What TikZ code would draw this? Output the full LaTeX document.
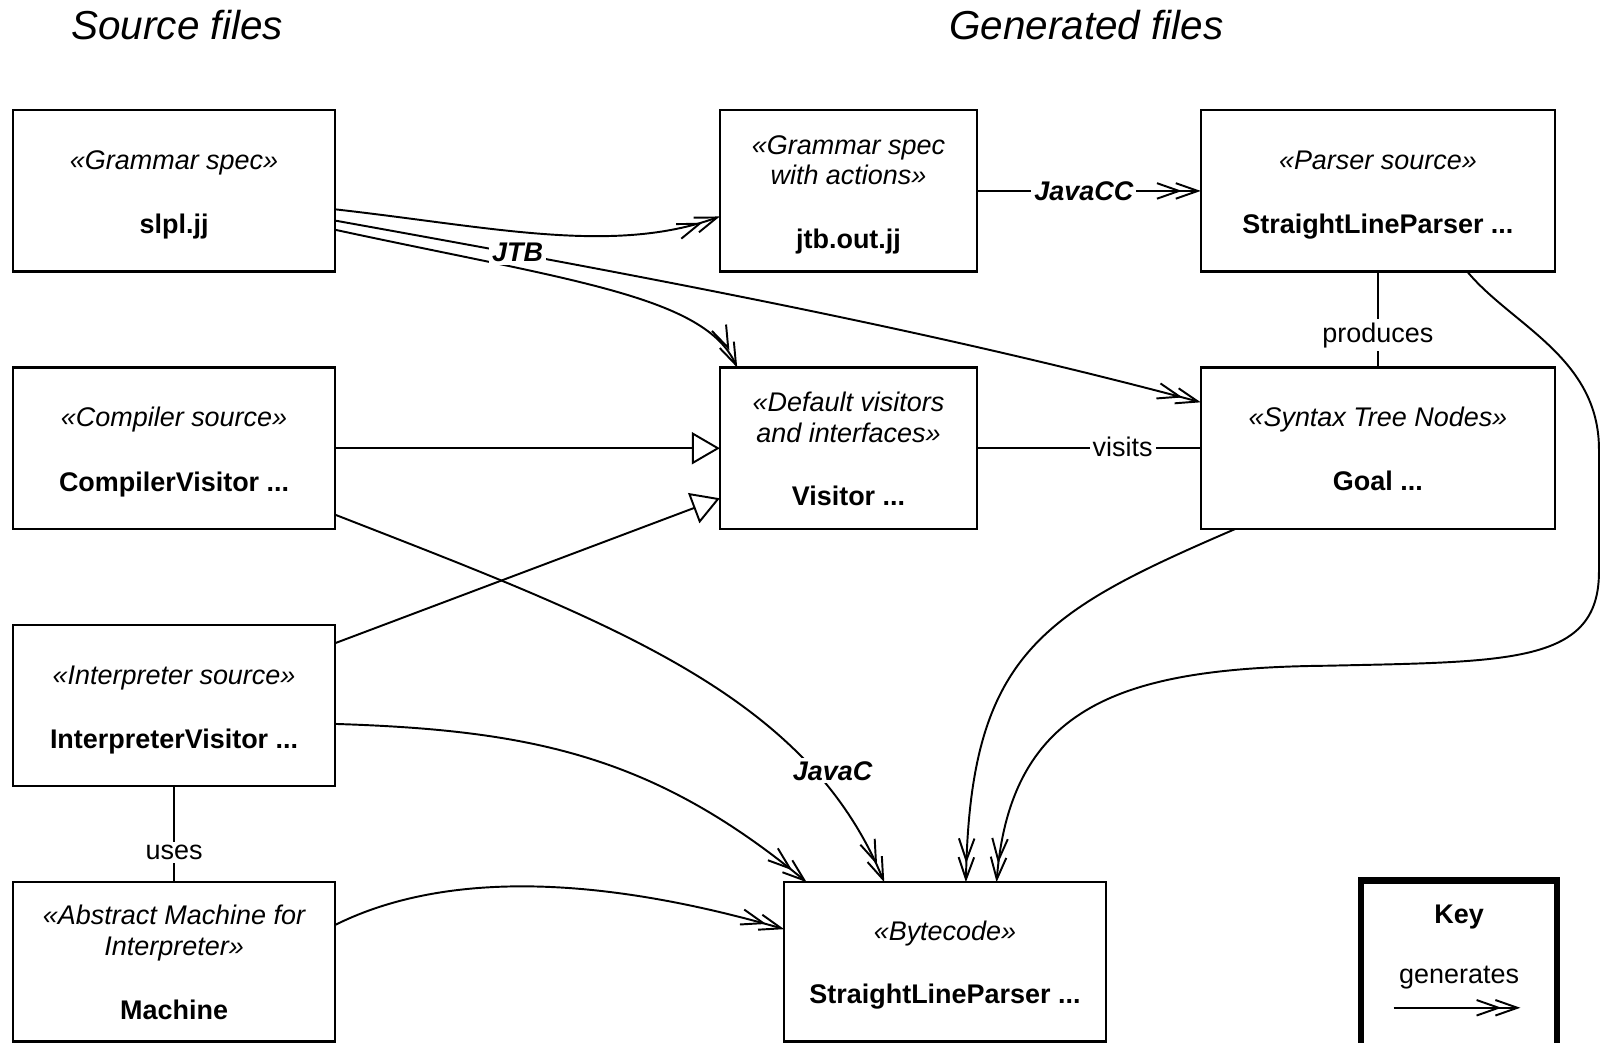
\documentclass[tikz,border=0pt]{standalone}
\usepackage{fontspec}
\setmainfont{Liberation Sans}
\usetikzlibrary{arrows.meta,calc}
\tikzset{
  box/.style={draw, line width=1.15pt, inner sep=0pt, outer sep=0pt, minimum height=79pt},
  keybox/.style={draw, line width=3.3pt, inner sep=0pt, outer sep=0pt},
  st/.style={font=\fontsize{13.2}{15}\itshape, anchor=base, inner sep=0pt},
  nm/.style={font=\fontsize{13.2}{15}\bfseries, anchor=base, inner sep=0pt},
  lbl/.style={font=\fontsize{13.2}{15}\selectfont, anchor=base, fill=white, inner sep=1.5pt},
  lblb/.style={lbl, font=\fontsize{13.2}{15}\bfseries\itshape},
  hd/.style={font=\fontsize{19.8}{22}\itshape, anchor=base, inner sep=0pt},
  conn/.style={line width=0.95pt},
  gen/.style={conn, -{Straight Barb[length=10.8pt,width=7.6pt,line width=0.95pt,sep=-3.5pt] Straight Barb[length=10.8pt,width=7.6pt,line width=0.95pt]}},
  real/.style={conn, -{Triangle[open,length=13.7pt,width=15.7pt,line width=0.95pt]}},
}
\begin{document}
\begin{tikzpicture}[x=0.5pt,y=-0.5pt]
\useasboundingbox (0,0) rectangle (1568,1021);
\fill[white] (0,0) rectangle (1568,1021);

% headings
\node[hd] (hsrc) at (173.5,39) {Source files};
\node[hd] (hgen) at (1064,39) {Generated files};

% boxes
\node[box, minimum width=157.5pt] (gs)  at (170.5,187) {};
\node[box, minimum width=126pt]   (gsa) at (831,187) {};
\node[box, minimum width=173.5pt] (ps)  at (1349.5,187) {};
\node[box, minimum width=157.5pt] (cs)  at (170.5,439) {};
\node[box, minimum width=126pt]   (dv)  at (831,439) {};
\node[box, minimum width=173.5pt] (stn) at (1349.5,439) {};
\node[box, minimum width=157.5pt] (is)  at (170.5,691) {};
\node[box, minimum width=157.5pt, minimum height=78pt] (am) at (170.5,942) {};
\node[box, minimum width=157.5pt, minimum height=78pt] (bc) at (925.5,942) {};
\node[keybox, minimum width=96pt, minimum height=90pt] (key) at (1429,952) {};

% box texts
\node[st] (gs1) at ($(gs.north)+(0,58)$) {«Grammar spec»};
\node[nm] (gs2) at ($(gs.north)+(0,121)$) {slpl.jj};

\node[st] (gsa1) at ($(gsa.north)+(0,43)$) {«Grammar spec};
\node[st] (gsa2) at ($(gsa.north)+(0,73)$) {with actions»};
\node[nm] (gsa3) at ($(gsa.north)+(0,135)$) {jtb.out.jj};

\node[st] (ps1) at ($(ps.north)+(0,58)$) {«Parser source»};
\node[nm] (ps2) at ($(ps.north)+(0,121)$) {StraightLineParser ...};

\node[st] (cs1) at ($(cs.north)+(0,58)$) {«Compiler source»};
\node[nm] (cs2) at ($(cs.north)+(0,121)$) {CompilerVisitor ...};

\node[st] (dv1) at ($(dv.north)+(0,43)$) {«Default visitors};
\node[st] (dv2) at ($(dv.north)+(0,73)$) {and interfaces»};
\node[nm] (dv3) at ($(dv.north)+(0,135)$) {Visitor ...};

\node[st] (stn1) at ($(stn.north)+(0,58)$) {«Syntax Tree Nodes»};
\node[nm] (stn2) at ($(stn.north)+(0,120)$) {Goal ...};

\node[st] (is1) at ($(is.north)+(0,58)$) {«Interpreter source»};
\node[nm] (is2) at ($(is.north)+(0,121)$) {InterpreterVisitor ...};

\node[st] (am1) at ($(am.north)+(0,41)$) {«Abstract Machine for};
\node[st] (am2) at ($(am.north)+(0,72)$) {Interpreter»};
\node[nm] (am3) at ($(am.north)+(0,134)$) {Machine};

\node[st] (bc1) at ($(bc.north)+(0,57)$) {«Bytecode»};
\node[nm] (bc2) at ($(bc.north)+(0,119)$) {StraightLineParser ...};

\node[nm] (key1) at ($(key.north)+(0,42)$) {Key};
\node[anchor=base, inner sep=0pt, font=\fontsize{13.2}{15}\selectfont] (key2) at ($(key.north)+(0,101)$) {generates};
\coordinate (ka) at ($(key.north west)+(32,125)$);
\coordinate (kb) at ($(key.north west)+(156,125)$);
\draw[gen] (ka) -- (kb);

% connectors
\draw[gen] ($(gs.north east)+(0,97)$) .. controls (480,222) and (600,250) .. ($(gsa.north west)+(0,104)$);
\draw[gen] ($(gs.north east)+(0,108)$) .. controls (600,265) and (900,320) .. ($(stn.north west)+(0,34)$);
\draw[gen] ($(gs.north east)+(0,117)$) .. controls (560,275) and (690,290) .. ($(dv.north west)+(17,0)$);
\draw[gen] (gsa.east) -- (ps.west);
\draw[conn] (ps.south) -- (stn.north);
\draw[conn] (dv.east) -- (stn.west);
\draw[real] (cs.east) -- (dv.west);
\draw[real] ($(is.north east)+(0,18)$) -- ($(dv.south west)+(0,-30)$);
\draw[gen] ($(cs.south east)+(0,-14)$) .. controls (600,610) and (790,680) .. ($(bc.north west)+(98,0)$);
\draw[gen] ($(is.north east)+(0,97)$) .. controls (520,715) and (640,740) .. ($(bc.north west)+(22,0)$);
\draw[gen] ($(am.north east)+(0,42)$) .. controls (420,860) and (560,850) .. ($(bc.north west)+(0,46)$);
\draw[gen] ($(stn.south west)+(34,0)$) .. controls (1020,600) and (950,640) .. ($(bc.north west)+(178,0)$);
\draw[gen] ($(ps.south east)+(-86,0)$) .. controls (1480,318) and (1566,350) .. (1566,440)
   -- (1566,560) .. controls (1566,650) and (1480,648) .. (1300,652)
   .. controls (1100,654) and (990,690) .. ($(bc.north west)+(208,0)$);
\draw[conn] (is.south) -- (am.north);

% labels
\node[lblb] (ljtb) at (507,256) {JTB};
\node[lblb] (ljcc) at (1061.5,196) {JavaCC};
\node[lbl] (lprod) at (1349.5,335) {produces};
\node[lbl] (lvis) at (1099.5,447) {visits};
\node[lblb] (ljc) at (815.5,764) {JavaC};
\node[lbl] (luses) at (170.5,842) {uses};
\end{tikzpicture}
\end{document}
